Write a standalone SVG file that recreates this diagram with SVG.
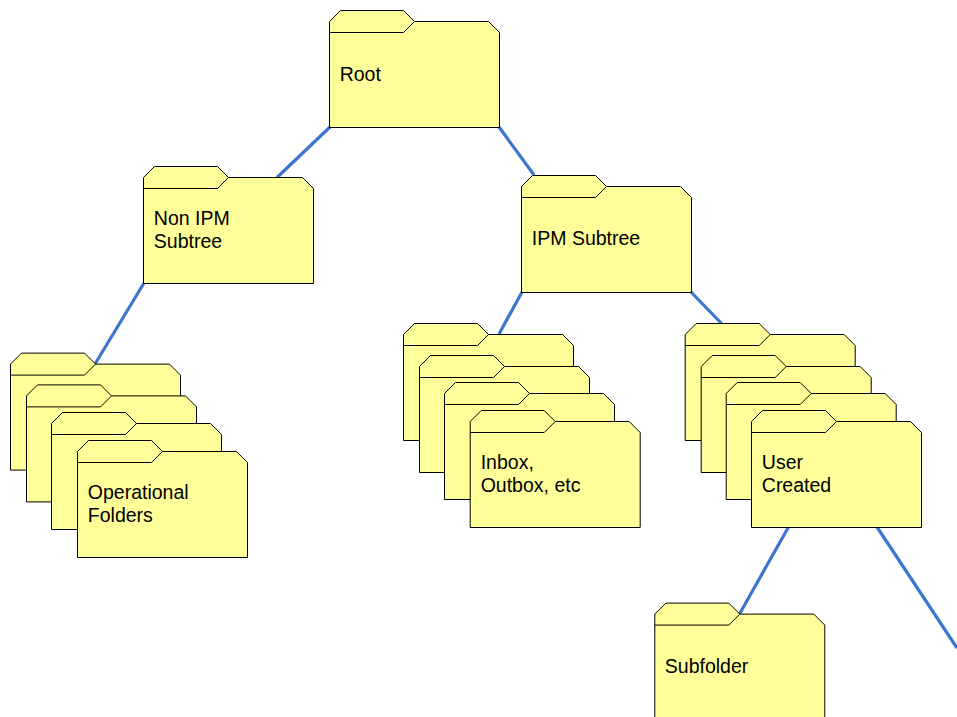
<svg xmlns="http://www.w3.org/2000/svg" width="957" height="717" viewBox="0 0 957 717">
<style>
.c{stroke:#3a75d0;stroke-width:3.2;fill:none}
.b{fill:#ffff99;stroke:#000;stroke-width:1}
.t{fill:none;stroke:#000;stroke-width:1}
text{font-family:"Liberation Sans",Arial,sans-serif;font-size:19.5px;fill:#000}
</style>
<defs>
<g id="fo">
<path class="b" d="M0.5 11.5L11.5 0.5H74.5L85.5 11.5H159.5L170.5 22.5V117.5H0.5Z"/>
<path class="t" d="M0.5 22.5H74.5L85.5 11.5"/>
</g>
</defs>
<rect width="957" height="717" fill="#fff"/>
<g id="connectors">
<line class="c" x1="330" y1="127" x2="277" y2="177.5"/>
<line class="c" x1="499" y1="127" x2="534" y2="175"/>
<line class="c" x1="144" y1="283" x2="95" y2="364"/>
<line class="c" x1="522" y1="292" x2="499" y2="334"/>
<line class="c" x1="691" y1="292" x2="722" y2="324"/>
<line class="c" x1="788.5" y1="527" x2="739.5" y2="614"/>
<line class="c" x1="877" y1="527" x2="957" y2="648"/>
</g>
<g id="root"><use href="#fo" x="329" y="10"/><text x="339.7" y="80.5">Root</text></g>
<g id="non-ipm"><use href="#fo" x="143" y="166"/><text x="153.8" y="225">Non IPM</text><text x="153.8" y="248">Subtree</text></g>
<g id="ipm"><use href="#fo" x="521" y="175"/><text x="531.8" y="244.5">IPM Subtree</text></g>
<g id="op1"><use href="#fo" x="10" y="352.6"/></g>
<g id="op2"><use href="#fo" x="26" y="384.4"/></g>
<g id="op3"><use href="#fo" x="51" y="412"/></g>
<g id="op4"><use href="#fo" x="77" y="440"/><text x="87.8" y="498.5">Operational</text><text x="87.8" y="521.7">Folders</text></g>
<g id="in1"><use href="#fo" x="403" y="323"/></g>
<g id="in2"><use href="#fo" x="419" y="355"/></g>
<g id="in3"><use href="#fo" x="444" y="382"/></g>
<g id="in4"><use href="#fo" x="469.7" y="410"/><text x="480.7" y="468.5">Inbox,</text><text x="480.7" y="491.7">Outbox, etc</text></g>
<g id="us1"><use href="#fo" x="684.7" y="323"/></g>
<g id="us2"><use href="#fo" x="700.7" y="355"/></g>
<g id="us3"><use href="#fo" x="725.7" y="382"/></g>
<g id="us4"><use href="#fo" x="751" y="410"/><text x="761.8" y="468.8">User</text><text x="761.8" y="491.8">Created</text></g>
<g id="sub"><use href="#fo" x="654.3" y="602.6"/><text x="664.8" y="672.5">Subfolder</text></g>
</svg>
